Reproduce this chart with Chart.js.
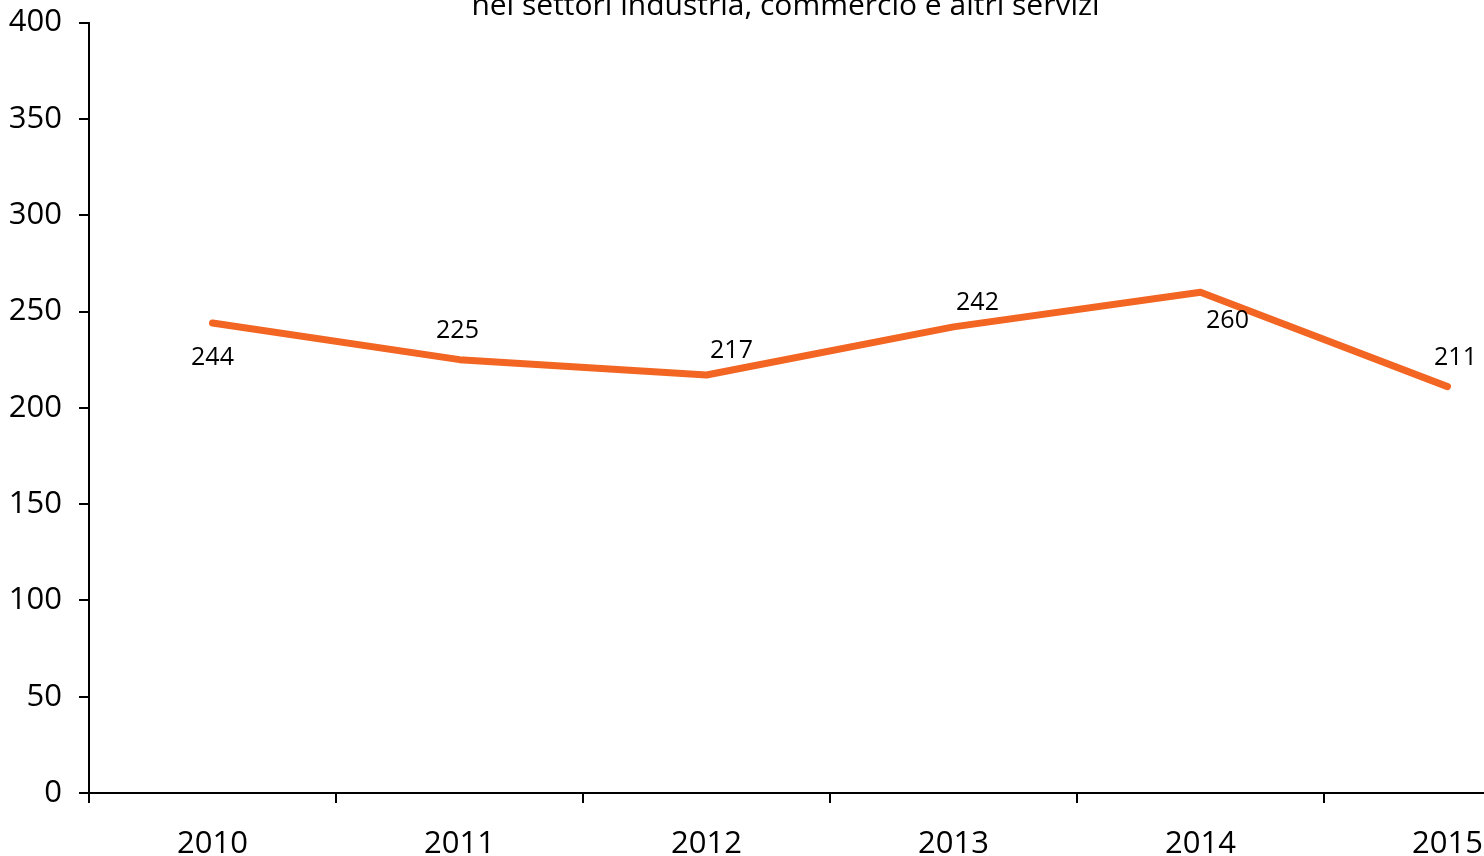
<!DOCTYPE html>
<html>
<head>
<meta charset="utf-8">
<script src="https://cdn.jsdelivr.net/npm/chart.js@4"></script>
<style>
  html, body { margin: 0; padding: 0; background: #fff; overflow: hidden; }
  #wrap { position: absolute; left: 0; top: -13px; }
</style>
</head>
<body>
<div id="wrap"><canvas id="chart" width="1576" height="876"></canvas></div>
<script>
// chart data
const years = ["2010", "2011", "2012", "2013", "2014", "2015"];
const values = [244, 225, 217, 242, 260, 211];
const yTicks = [0, 50, 100, 150, 200, 250, 300, 350, 400];
const titleText = "nei settori industria, commercio e altri servizi";

const FONT = "'Open Sans', sans-serif";

// value labels next to each point (offsets in px)
const labelOffsets = [[0, 35], [-2, -29], [25, -24], [24, -24], [27, 29], [8, -29]];

const valueLabels = {
    id: "valueLabels",
    afterDatasetsDraw(chart) {
        const ctx = chart.ctx;
        const meta = chart.getDatasetMeta(0);
        ctx.save();
        ctx.font = "25px " + FONT;
        ctx.fillStyle = "#000";
        ctx.textAlign = "center";
        ctx.textBaseline = "middle";
        meta.data.forEach((pt, i) => {
            const off = labelOffsets[i];
            ctx.fillText(String(values[i]), pt.x + off[0], pt.y + off[1]);
        });
        ctx.restore();
    }
};

const ctx = document.getElementById("chart");
new Chart(ctx, {
    type: "line",
    data: {
        labels: years,
        datasets: [{
            data: values,
            borderColor: "#F26522",
            borderWidth: 7,
            pointRadius: 0,
            tension: 0,
            borderCapStyle: "round",
            borderJoinStyle: "round"
        }]
    },
    options: {
        responsive: false,
        animation: false,
        layout: { padding: { left: 0, right: 5, top: 0, bottom: 0 } },
        plugins: {
            legend: { display: false },
            tooltip: { enabled: false },
            title: {
                display: true,
                text: titleText,
                color: "#000",
                font: { family: FONT, size: 30, weight: "normal", lineHeight: 1.1 },
                padding: { top: 0, bottom: 0 }
            }
        },
        scales: {
            x: {
                offset: true,
                afterFit(scale) { scale.height = 70; },
                grid: {
                    offset: true,
                    drawOnChartArea: false,
                    drawTicks: true,
                    tickLength: 10,
                    color: "#000",
                    lineWidth: 2
                },
                border: { display: true, color: "#000", width: 2 },
                ticks: {
                    color: "#000",
                    padding: 23,
                    font: { family: FONT, size: 31 }
                }
            },
            y: {
                min: 0,
                max: 400,
                afterFit(scale) { scale.width = 89; },
                afterBuildTicks(scale) {
                    scale.ticks = yTicks.map(v => ({ value: v }));
                },
                grid: {
                    drawOnChartArea: false,
                    drawTicks: true,
                    tickLength: 10,
                    color: "#000",
                    lineWidth: 2
                },
                border: { display: true, color: "#000", width: 2 },
                ticks: {
                    color: "#000",
                    padding: 17,
                    font: { family: FONT, size: 31 }
                }
            }
        }
    },
    plugins: [valueLabels]
});
</script>
</body>
</html>
